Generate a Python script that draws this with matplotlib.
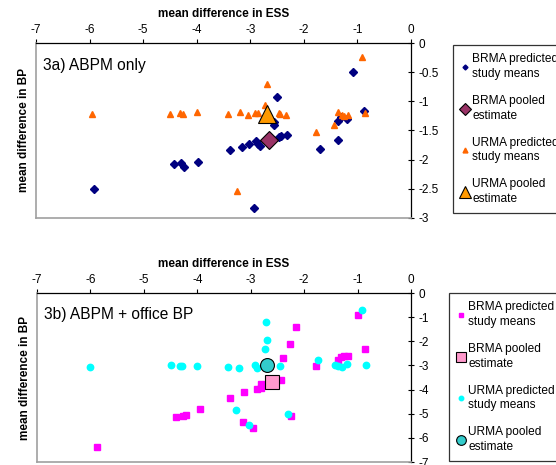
import matplotlib
matplotlib.use("Agg")
import matplotlib.pyplot as plt

plt.rcParams['font.family'] = ['Liberation Sans', 'DejaVu Sans']

# ---- panel 3a: ABPM only ----
brma_a_x = [-5.92, -4.43, -4.29, -4.24, -3.97, -3.38, -3.15, -3.03, -2.89, -2.85,
            -2.82, -2.94, -2.56, -2.56, -2.51, -2.46, -2.43, -2.31, -1.70, -1.37,
            -1.36, -1.31, -1.19, -1.08, -0.87]
brma_a_y = [-2.51, -2.07, -2.05, -2.12, -2.04, -1.84, -1.78, -1.73, -1.68, -1.73,
            -1.76, -2.83, -1.35, -1.41, -0.93, -1.61, -1.60, -1.57, -1.81, -1.33,
            -1.66, -1.27, -1.30, -0.49, -1.17]
urma_a_x = [-5.95, -4.49, -4.31, -4.26, -3.99, -3.42, -3.19, -3.04, -2.92, -2.86,
            -2.72, -2.69, -2.47, -2.44, -2.33, -3.25, -1.77, -1.43, -1.36, -1.29,
            -1.26, -1.18, -0.92, -0.85]
urma_a_y = [-1.21, -1.22, -1.20, -1.21, -1.19, -1.22, -1.19, -1.23, -1.20, -1.20,
            -1.07, -0.70, -1.20, -1.21, -1.24, -2.53, -1.52, -1.40, -1.19, -1.23,
            -1.25, -1.23, -0.24, -1.20]
brma_a_pool = (-2.65, -1.66)
urma_a_pool = (-2.69, -1.21)

# ---- panel 3b: ABPM + office BP ----
brma_b_x = [-5.87, -4.39, -4.27, -4.22, -3.95, -3.38, -3.13, -2.88, -2.80, -2.80,
            -3.14, -2.96, -2.43, -2.40, -2.26, -2.15, -2.25, -1.77, -1.37, -1.31,
            -1.26, -1.18, -0.99, -0.86]
brma_b_y = [-6.37, -5.15, -5.10, -5.06, -4.81, -4.36, -4.10, -3.99, -3.92, -3.77,
            -5.35, -5.58, -3.60, -2.70, -2.12, -1.41, -5.08, -3.01, -2.77, -2.67,
            -2.62, -2.60, -0.90, -2.31]
urma_b_x = [-6.00, -4.49, -4.32, -4.28, -4.01, -3.43, -3.22, -2.92, -2.88, -2.72,
            -2.70, -2.74, -2.45, -3.28, -3.04, -2.31, -1.75, -1.43, -1.36, -1.29,
            -1.19, -0.91, -0.84]
urma_b_y = [-3.05, -2.99, -3.03, -3.03, -3.02, -3.06, -3.10, -2.99, -3.09, -1.20,
            -1.93, -2.34, -3.03, -4.85, -5.47, -5.01, -2.77, -2.98, -3.03, -3.06,
            -2.96, -0.69, -2.99]
brma_b_pool = (-2.60, -3.68)
urma_b_pool = (-2.70, -2.99)

x_ticks = [-7, -6, -5, -4, -3, -2, -1, 0]
y_ticks_a = [0, -0.5, -1, -1.5, -2, -2.5, -3]
y_ticks_b = [0, -1, -2, -3, -4, -5, -6, -7]


def style_axes(ax, yticks, title):
    ax.set_xlim(-7, 0)
    ax.set_ylim(yticks[-1], 0)
    ax.xaxis.tick_top()
    ax.xaxis.set_label_position('top')
    ax.yaxis.tick_right()
    ax.set_xticks(x_ticks)
    ax.set_xticklabels([str(v) for v in x_ticks])
    ax.set_yticks(yticks)
    ax.set_yticklabels([('%g' % v) for v in yticks])
    ax.tick_params(axis='x', direction='out', length=3, width=0.8, labelsize=8.5, pad=2)
    ax.tick_params(axis='y', direction='inout', length=5, width=0.8, labelsize=8.5, pad=3)
    for side in ['left', 'bottom']:
        ax.spines[side].set_color('#a0a0a0')
        ax.spines[side].set_linewidth(1.2)
    for side in ['top', 'right']:
        ax.spines[side].set_color('black')
        ax.spines[side].set_linewidth(0.9)
    ax.set_xlabel('mean difference in ESS', fontsize=8.5, fontweight='bold', labelpad=5)
    ax.set_ylabel('mean difference in BP', fontsize=8.5, fontweight='bold', labelpad=4)
    ax.yaxis.set_label_position('left')
    ax.text(0.019, 0.87, title, transform=ax.transAxes, fontsize=11.2,
            va='center', ha='left')


def add_legend(handles, anchor):
    leg = fig.legend(handles, [h.get_label() for h in handles],
                     loc='upper left', bbox_to_anchor=anchor, borderaxespad=0,
                     fontsize=8.6, frameon=True, fancybox=False, edgecolor='black',
                     labelspacing=1.25, handlelength=0.6, handletextpad=0.3,
                     borderpad=0.7, markerscale=0.7)
    leg.get_frame().set_linewidth(0.9)
    for t in leg.get_texts():
        t.set_linespacing(1.3)
    return leg


fig = plt.figure(figsize=(5.56, 4.65), dpi=100)
ax1 = fig.add_axes([36 / 556, 1 - 218 / 465, 375 / 556, 175 / 465])
ax2 = fig.add_axes([37 / 556, 1 - 462 / 465, 374 / 556, 169 / 465])

# panel a
h1, = ax1.plot(brma_a_x, brma_a_y, 'D', color='#000080', ms=3.6, mec='#000080', ls='none',
               label='BRMA predicted\nstudy means')
h3, = ax1.plot(urma_a_x, urma_a_y, '^', color='#FF6600', ms=5, mec='#FF6600', ls='none',
               label='URMA predicted\nstudy means')
h2, = ax1.plot([brma_a_pool[0]], [brma_a_pool[1]], 'D', color='#993366', ms=9, mec='black',
               mew=0.8, ls='none', label='BRMA pooled\nestimate')
h4, = ax1.plot([urma_a_pool[0]], [urma_a_pool[1]], '^', color='#FF9900', ms=13, mec='black',
               mew=0.8, ls='none', label='URMA pooled\nestimate')
style_axes(ax1, y_ticks_a, '3a) ABPM only')
add_legend([h1, h2, h3, h4], (453 / 556, 1 - 45 / 465))

# panel b
g1, = ax2.plot(brma_b_x, brma_b_y, 's', color='#FF00FF', ms=4.3, mec='#FF00FF', ls='none',
               label='BRMA predicted\nstudy means')
g3, = ax2.plot(urma_b_x, urma_b_y, 'o', color='#00FFFF', ms=4.6, mec='#00FFFF', ls='none',
               label='URMA predicted\nstudy means')
g2, = ax2.plot([brma_b_pool[0]], [brma_b_pool[1]], 's', color='#FF99CC', ms=10, mec='black',
               mew=0.8, ls='none', label='BRMA pooled\nestimate')
g4, = ax2.plot([urma_b_pool[0]], [urma_b_pool[1]], 'o', color='#33CCCC', ms=10, mec='black',
               mew=0.8, ls='none', label='URMA pooled\nestimate')
style_axes(ax2, y_ticks_b, '3b) ABPM + office BP')
add_legend([g1, g2, g3, g4], (449 / 556, 1 - 293 / 465))

fig.savefig('out.png', dpi=100)
